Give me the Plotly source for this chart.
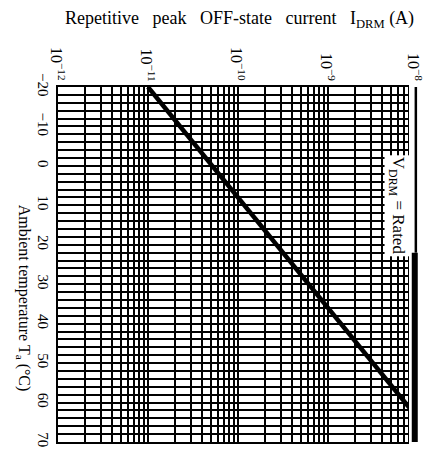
import math
import plotly.graph_objects as go

# Axis ticks and labels
current_decades = [1e-12, 1e-11, 1e-10, 1e-9, 1e-8]
current_labels = ["10<sup>−12</sup>", "10<sup>−11</sup>", "10<sup>−10</sup>",
                  "10<sup>−9</sup>", "10<sup>−8</sup>"]
mantissas = [1, 2, 3, 4, 5, 6, 7, 8, 9]

temp_ticks = [-20, -10, 0, 10, 20, 30, 40, 50, 60, 70]
temp_labels = ["−20", "−10", "0", "10", "20", "30", "40", "50", "60", "70"]

# Characteristic: repetitive peak OFF-state current vs ambient temperature
ta_curve = [-20, 64]
idrm_curve = [1e-11, 1e-8]

# Log grid: every mantissa in each decade
grid_vals = [m * d for d in current_decades[:-1] for m in mantissas] + [current_decades[-1]]

serif = "Liberation Serif"
gap = "&nbsp;&nbsp;&nbsp;"

fig = go.Figure()
fig.add_trace(go.Scatter(
    x=idrm_curve, y=ta_curve, mode="lines",
    line=dict(color="black", width=4.5),
    showlegend=False, hoverinfo="skip",
))

fig.update_layout(
    width=425, height=457,
    margin=dict(l=58, r=7, t=87, b=15),
    paper_bgcolor="white", plot_bgcolor="white",
    font=dict(family=serif, color="black", size=15),
    xaxis=dict(
        type="log", range=[-12.0001, -7.9999], side="top",
        tickvals=grid_vals, showticklabels=False, ticks="",
        showgrid=True, gridcolor="black", gridwidth=1.6,
        showline=True, linecolor="black", linewidth=2, mirror=True,
        zeroline=False,
    ),
    yaxis=dict(
        range=[70, -20],
        tickvals=temp_ticks, ticktext=temp_labels, tickangle=90,
        ticks="", ticklabelstandoff=0,
        showgrid=True, gridcolor="black", gridwidth=1.6,
        minor=dict(dtick=2, showgrid=True, gridcolor="black", gridwidth=1.6),
        showline=True, linecolor="black", linewidth=2, mirror=False,
        zeroline=False, tickfont=dict(size=15),
    ),
)

# Decade labels on the current axis, turned to read downwards
for i, (val, lab) in enumerate(zip(current_decades, current_labels)):
    fig.add_annotation(
        text=lab, textangle=90,
        xref="x", yref="paper", x=math.log10(val), y=1.0,
        xanchor="center", yanchor="bottom", yshift=4,
        xshift=-3 if i == len(current_decades) - 1 else 0, showarrow=False,
        font=dict(family=serif, size=16, color="black"),
    )

# Right-hand frame: blank strip and heavy border
fig.add_shape(type="rect", xref="paper", yref="paper", x0=0.975, x1=1.01, y0=-0.01, y1=1.01,
              fillcolor="white", line=dict(width=0), layer="above")
fig.add_shape(type="line", xref="paper", yref="y", x0=0.994, x1=0.994, y0=-20, y1=22,
              line=dict(color="black", width=2.5), layer="above")
fig.add_shape(type="line", xref="paper", yref="y", x0=0.991, x1=0.991, y0=22, y1=70.2,
              line=dict(color="black", width=6), layer="above")

fig.add_annotation(
    text="V<sub>DRM</sub> = Rated", textangle=90,
    xref="paper", yref="paper", x=0.942, y=0.665,
    xanchor="center", yanchor="middle", showarrow=False,
    bgcolor="white", font=dict(family=serif, size=17, color="black"),
)
fig.add_annotation(
    text=gap.join(["Repetitive", "peak", "OFF-state", "current", "I<sub>DRM</sub> (A)"]),
    xref="paper", yref="paper", x=0.503, y=1.189,
    xanchor="center", yanchor="middle", showarrow=False,
    font=dict(family=serif, size=18, color="black"),
)
fig.add_annotation(
    text="Ambient temperature T<sub>a</sub> (°C)", textangle=90,
    xref="paper", yref="paper", x=-0.097, y=0.406,
    xanchor="center", yanchor="middle", showarrow=False,
    font=dict(family=serif, size=16, color="black"),
)

fig.write_html("out.html")
